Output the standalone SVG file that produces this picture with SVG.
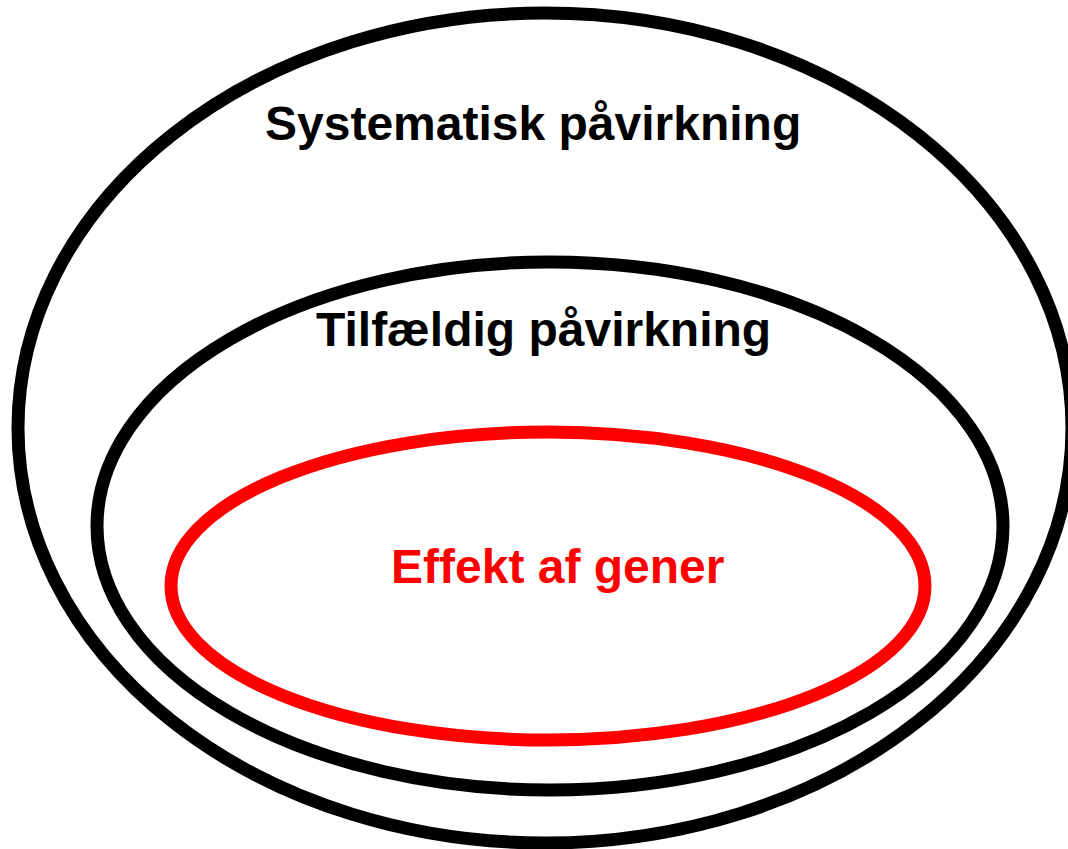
<svg xmlns="http://www.w3.org/2000/svg" width="1068" height="849" viewBox="0 0 1068 849">
<style>
.ring{fill:none;stroke-width:13}
.blk{stroke:#000}
.red{stroke:#ff0000}
.lbl{font-family:"Liberation Sans",Arial,sans-serif;font-weight:bold;font-size:48px}
</style>
<rect width="1068" height="849" fill="#fff"/>
<g id="systematisk">
<ellipse class="ring blk" cx="545" cy="428" rx="527" ry="415"/>
<text class="lbl" x="265" y="140" fill="#000">Systematisk påvirkning</text>
</g>
<g id="tilfaeldig">
<ellipse class="ring blk" cx="550" cy="526" rx="453" ry="264"/>
<text class="lbl" x="316" y="346" fill="#000">Tilfældig påvirkning</text>
</g>
<g id="gener">
<ellipse class="ring red" cx="548" cy="586" rx="377" ry="154"/>
<text class="lbl" x="391" y="583" fill="#ff0000">Effekt af gener</text>
</g>
<g id="connectors"/>
</svg>
